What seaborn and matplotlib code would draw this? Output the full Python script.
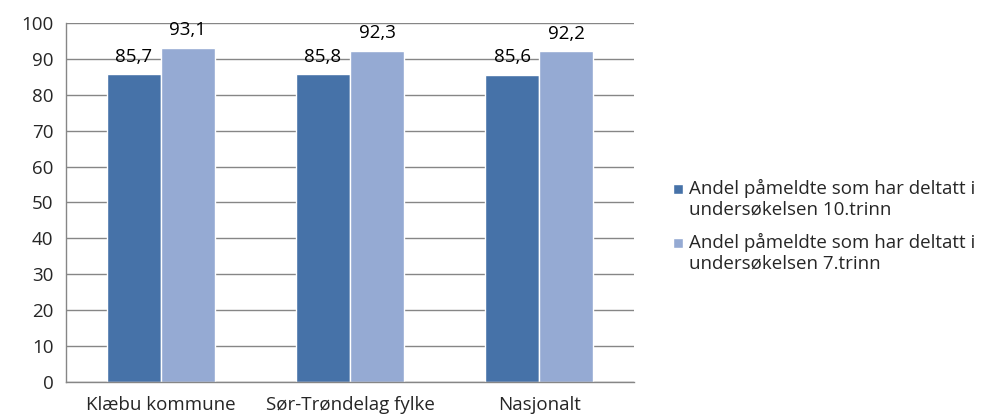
import pandas as pd
import matplotlib.pyplot as plt
import seaborn as sns
from matplotlib.patches import Patch, Rectangle
from matplotlib.legend_handler import HandlerPatch

# Data
categories = ['Klæbu kommune', 'Sør-Trøndelag fylke', 'Nasjonalt']
series_names = ['Andel påmeldte som har deltatt i\nundersøkelsen 10.trinn',
                'Andel påmeldte som har deltatt i\nundersøkelsen 7.trinn']
trinn10 = [85.7, 85.8, 85.6]
trinn7 = [93.1, 92.3, 92.2]
colors = ['#4672A8', '#95AAD3']

df = pd.DataFrame({
    'Kategori': categories * 2,
    'Serie': [series_names[0]] * 3 + [series_names[1]] * 3,
    'Verdi': trinn10 + trinn7,
})

sns.set_style('white')
plt.rcParams['font.family'] = ['Open Sans', 'DejaVu Sans']
fs = 13.5

fig = plt.figure(figsize=(10.05, 4.17), dpi=100)
ax = fig.add_axes([0.0657, 0.084, 0.5652, 0.861])

sns.barplot(data=df, x='Kategori', y='Verdi', hue='Serie', palette=colors,
            width=0.57, gap=0, ax=ax, legend=False, saturation=1)

for c in ax.containers:
    ax.bar_label(c, labels=[f'{v:.1f}'.replace('.', ',') for v in c.datavalues],
                 padding=6, fontsize=fs, color='#000000')

ax.set_ylim(0, 100)
ax.set_xlim(-0.5, 2.5)
ax.set_yticks(range(0, 101, 10))
ax.yaxis.grid(True, color='#868686', linewidth=1)
ax.set_axisbelow(True)
ax.set_xlabel('')
ax.set_ylabel('')

for s in ['top', 'right']:
    ax.spines[s].set_visible(False)
for s in ['left', 'bottom']:
    ax.spines[s].set_color('#868686')
    ax.spines[s].set_linewidth(1)

ax.tick_params(axis='y', length=5, color='#868686', labelsize=fs, pad=4)
ax.tick_params(axis='x', which='major', length=0, labelsize=fs, pad=10)
ax.set_xticks([-0.5, 0.5, 1.5, 2.5], minor=True)
ax.tick_params(axis='x', which='minor', length=5, color='#868686')


# legend marker aligned with the first text line
def top_square(legend, orig_handle, xdescent, ydescent, width, height, fontsize):
    s = 0.55 * fontsize
    return Rectangle((-xdescent, -ydescent + height / 2 - s / 2 + 0.56 * fontsize), s, s)


handles = [Patch(facecolor=c) for c in colors]
fig.legend(handles, series_names, loc='center left', bbox_to_anchor=(0.6697, 0.458),
           frameon=False, fontsize=fs, handlelength=0.55, handleheight=0.55,
           handletextpad=0.3, labelspacing=0.75, borderpad=0, borderaxespad=0,
           handler_map={Patch: HandlerPatch(patch_func=top_square)})

fig.savefig('out.png', dpi=100)
